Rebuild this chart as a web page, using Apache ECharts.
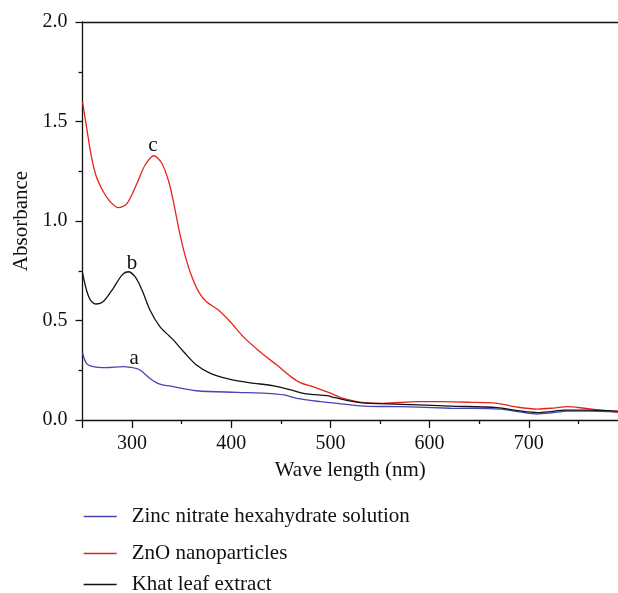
<!DOCTYPE html>
<html>
<head>
<meta charset="utf-8">
<script src="https://cdn.jsdelivr.net/npm/echarts@6/dist/echarts.min.js"></script>
<style>html,body{margin:0;padding:0;background:#fff;}#c{width:618px;height:593px;}</style>
</head>
<body>
<div id="c"></div>
<script>
// ---- data ----
const seriesNames = ['Zinc nitrate hexahydrate solution', 'ZnO nanoparticles', 'Khat leaf extract'];

const zincWl  = [250,254,261,274,291,298,308,318,328,338,365,406,436,453,466,490,500,534,571,621,672,689,709,722,739,760,790];
const zincAbs = [0.338,0.285,0.268,0.263,0.268,0.265,0.251,0.209,0.180,0.171,0.147,0.139,0.134,0.126,0.109,0.092,0.087,0.070,0.067,0.059,0.055,0.042,0.030,0.035,0.045,0.045,0.040];

const znoWl  = [250,254,259,264,271,278,286,295,305,313,322,330,337,342,347,352,359,367,375,387,399,412,429,446,460,470,483,498,513,534,554,588,611,641,668,689,709,725,739,756,775,790];
const znoAbs = [1.60,1.474,1.323,1.222,1.147,1.097,1.067,1.089,1.19,1.28,1.328,1.29,1.197,1.089,0.963,0.854,0.737,0.645,0.594,0.553,0.494,0.419,0.343,0.276,0.218,0.187,0.167,0.139,0.109,0.087,0.084,0.092,0.092,0.089,0.084,0.064,0.055,0.060,0.067,0.059,0.048,0.039];

const khatWl  = [250,254,258,264,271,281,290,296,303,310,318,328,338,342,352,365,379,399,419,443,460,476,497,503,530,571,621,668,689,709,722,736,760,790];
const khatAbs = [0.740,0.653,0.603,0.583,0.595,0.662,0.729,0.745,0.720,0.653,0.553,0.469,0.420,0.400,0.343,0.276,0.234,0.204,0.187,0.172,0.151,0.131,0.122,0.114,0.087,0.079,0.070,0.062,0.047,0.037,0.042,0.050,0.050,0.045];

const peakLabels = ['a', 'c', 'b'];
const peakCoords = [[302, 0.31], [321, 1.38], [300, 0.787]];

const xMajorTicks = [250, 300, 400, 500, 600, 700];
const xLabelValues = [300, 400, 500, 600, 700];
const xMinorTicks = [350, 450, 550, 650, 750];

// ---- chart ----
const FONT = 'Liberation Serif';
const colors = ['#4545b5', '#e8231c', '#111111'];
const pairs = (xs, ys) => xs.map((x, i) => [x, ys[i]]);
const dataSets = [pairs(zincWl, zincAbs), pairs(znoWl, znoAbs), pairs(khatWl, khatAbs)];

const chart = echarts.init(document.getElementById('c'), null, {renderer: 'canvas'});

const legendTops = [506, 543, 574];
const option = {
  animation: false,
  backgroundColor: '#fff',
  grid: {left: 82.5, right: 0, top: 22, bottom: 173, containLabel: false},
  xAxis: [
    {
      type: 'value', min: 250, max: 790, position: 'bottom',
      name: 'Wave length (nm)', nameLocation: 'middle', nameGap: 40,
      nameTextStyle: {fontFamily: FONT, fontSize: 21, color: '#111'},
      axisLine: {show: true, lineStyle: {color: '#111', width: 1.3}},
      axisTick: {show: true, customValues: xMajorTicks, length: 8, lineStyle: {color: '#111', width: 1.3}},
      axisLabel: {show: true, customValues: xLabelValues, margin: 14, fontFamily: FONT, fontSize: 20, color: '#111'},
      splitLine: {show: false}
    },
    {
      type: 'value', min: 250, max: 790, position: 'bottom',
      axisLine: {show: false},
      axisTick: {show: true, customValues: xMinorTicks, length: 4, lineStyle: {color: '#111', width: 1.3}},
      axisLabel: {show: false},
      splitLine: {show: false}
    },
    {
      type: 'value', min: 250, max: 790, position: 'top',
      axisLine: {show: true, onZero: false, lineStyle: {color: '#111', width: 1.3}},
      axisTick: {show: false}, axisLabel: {show: false}, splitLine: {show: false}
    }
  ],
  yAxis: {
    type: 'value', min: 0, max: 2, interval: 0.5,
    name: 'Absorbance', nameLocation: 'middle', nameGap: 50, nameRotate: 90,
    nameTextStyle: {fontFamily: FONT, fontSize: 21, color: '#111'},
    axisLine: {show: true, lineStyle: {color: '#111', width: 1.3}},
    axisTick: {show: true, length: 7, lineStyle: {color: '#111', width: 1.3}},
    minorTick: {show: true, splitNumber: 2, length: 4, lineStyle: {color: '#111', width: 1.3}},
    axisLabel: {margin: 15, fontFamily: FONT, fontSize: 20, color: '#111', formatter: v => v.toFixed(1)},
    splitLine: {show: false}
  },
  legend: seriesNames.map((n, i) => ({
    data: [n], orient: 'vertical', left: 83, top: legendTops[i], padding: 0,
    itemWidth: 33, itemHeight: 14,
    itemStyle: {opacity: 0, borderWidth: 0},
    lineStyle: {width: 1.3, color: colors[i], opacity: 1},
    textStyle: {fontFamily: FONT, fontSize: 21, color: '#111', padding: [0, 0, 0, 10]},
    selectedMode: false
  })),
  series: seriesNames.map((n, i) => ({
    name: n, type: 'line', xAxisIndex: 0, data: dataSets[i],
    smooth: 0.3, symbol: 'none', color: colors[i],
    lineStyle: {width: 1.3, color: colors[i]},
    markPoint: {
      symbol: 'circle', symbolSize: 0,
      label: {show: true, position: 'inside', formatter: peakLabels[i], fontFamily: FONT, fontSize: 21, color: '#111'},
      data: [{coord: peakCoords[i], value: peakLabels[i]}]
    }
  }))
};
chart.setOption(option);
</script>
</body>
</html>
